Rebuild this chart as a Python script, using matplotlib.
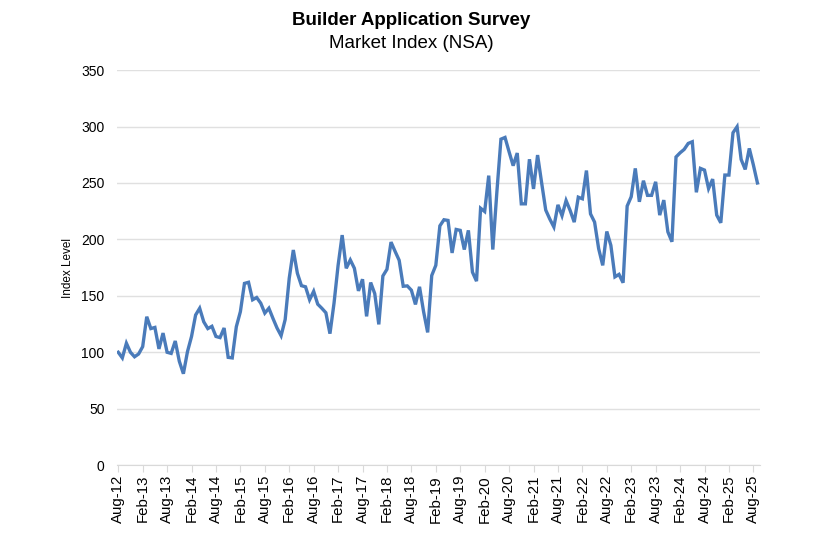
import matplotlib
matplotlib.use("Agg")
import matplotlib.pyplot as plt

plt.rcParams['font.family'] = ['Liberation Sans', 'DejaVu Sans']

# monthly index, Aug-12 .. Sep-25
index_level = [
    100, 95, 108, 100, 96, 98.5, 105, 131.5, 121, 122, 103, 117,
    100, 99, 110, 92, 81, 100.5, 114, 133, 139, 127, 121, 123,
    114, 113, 121.5, 95.5, 95, 122.6, 136, 161, 162, 146.5, 148.5, 143.5,
    134.7, 139, 130, 121.5, 114.7, 129, 165.6, 190.6, 170, 159, 158, 146.5,
    154, 142.6, 139, 135, 116.5, 143.5, 177, 203.8, 174.4, 181.8, 174.4, 154.4,
    164.7, 131.8, 161.8, 152, 124.7, 167.6, 173.5, 197.6, 189.4, 181.5, 158.5, 158.8,
    155, 142.4, 158, 136, 117.6, 168, 177, 212, 217.4, 216.8, 188, 208.8,
    208, 191, 208, 171, 163, 227.6, 224.7, 256.5, 191, 242, 288.8, 290.3,
    277.6, 265.3, 276.5, 231.5, 231.5, 271, 244.7, 274.7, 250, 226, 218, 211,
    230.6, 221, 234.4, 225.6, 215.3, 237.4, 236, 261, 222.6, 215.3, 191.8, 177,
    207, 194.7, 166.8, 169, 161.6, 229.5, 237.8, 262.9, 233.3, 252, 239, 239,
    251, 221.5, 234.8, 206.7, 197.9, 273, 276.7, 279.7, 285, 286.5, 241.7, 262.9,
    261.4, 245, 253.4, 221.5, 214.7, 257, 257, 294.5, 299.8, 270.8, 262, 280.6,
    266, 250,
]

tick_labels = ['Aug-12', 'Feb-13', 'Aug-13', 'Feb-14', 'Aug-14', 'Feb-15', 'Aug-15',
               'Feb-16', 'Aug-16', 'Feb-17', 'Aug-17', 'Feb-18', 'Aug-18', 'Feb-19',
               'Aug-19', 'Feb-20', 'Aug-20', 'Feb-21', 'Aug-21', 'Feb-22', 'Aug-22',
               'Feb-23', 'Aug-23', 'Feb-24', 'Aug-24', 'Feb-25', 'Aug-25']
y_ticks = [0, 50, 100, 150, 200, 250, 300, 350]

months = list(range(len(index_level)))
tick_pos = [6 * i for i in range(len(tick_labels))]

fig = plt.figure(figsize=(8.3, 5.39), dpi=100)
ax = fig.add_axes([0.141, 0.137, 0.775, 0.733])

ax.plot(months, index_level, color='#4A7BBA', linewidth=2.4, solid_joinstyle='miter')

ax.set_xlim(-0.3, 157.7)
ax.set_ylim(0, 350)
ax.set_yticks(y_ticks)
ax.set_xticks(tick_pos)
ax.set_xticklabels(tick_labels, rotation=90, fontsize=10.8)
ax.tick_params(axis='y', length=0, labelsize=10, pad=9)
ax.tick_params(axis='x', length=5, color='#D9D9D9', pad=2)
ax.grid(axis='y', color='#E0E0E0', linewidth=1)
ax.set_axisbelow(True)
for side in ['top', 'right', 'left']:
    ax.spines[side].set_visible(False)
ax.spines['bottom'].set_color('#D9D9D9')

ax.set_ylabel("Index Level", fontsize=8.5, labelpad=5)

fig.text(0.495, 0.962, "Builder Application Survey", ha='center', va='center',
         fontsize=13.5, fontweight='bold')
fig.text(0.495, 0.919, "Market Index (NSA)", ha='center', va='center', fontsize=13.5)

fig.savefig("out.png", dpi=100)
